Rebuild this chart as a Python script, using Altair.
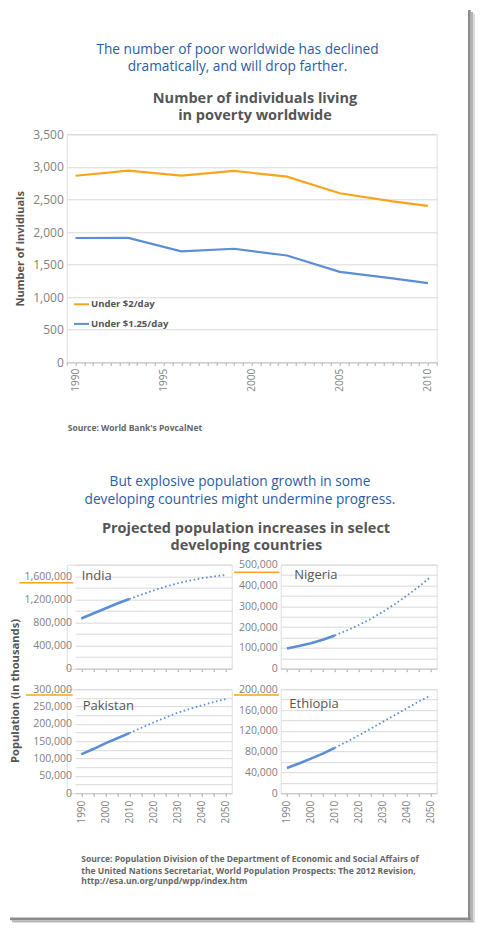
import altair as alt
import pandas as pd

FONT = "Open Sans"
BLUE_TXT = "#2B5CA6"
DARK = "#555555"
GRAY_LBL = "#7F7F7F"
GRID = "#D9D9D9"
ORANGE = "#F7A51C"
BLUE = "#5B8ED5"

# ---------------- text ----------------
heading1 = ["The number of poor worldwide has declined", "dramatically, and will drop farther."]
title1 = ["Number of individuals living", "in poverty worldwide"]
heading2 = ["But explosive population growth in some", "developing countries might undermine progress."]
title2 = ["Projected population increases in select", "developing countries"]
source1 = "Source: World Bank's PovcalNet"
source2 = [
    "Source: Population Division of the Department of Economic and Social Affairs of",
    "the United Nations Secretariat, World Population Prospects: The 2012 Revision,",
    "http://esa.un.org/unpd/wpp/index.htm",
]
y_title1 = "Number of invidiuals"
y_title2 = "Population (in thousands)"

# ---------------- data: poverty ----------------
years_pov = [1990, 1993, 1996, 1999, 2002, 2005, 2008, 2010]
under_2 = [2864, 2941, 2867, 2938, 2851, 2595, 2471, 2400]
under_125 = [1908, 1910, 1704, 1743, 1639, 1389, 1289, 1215]
series_names = ["Under $2/day", "Under $1.25/day"]
pov_ticks = [0, 500, 1000, 1500, 2000, 2500, 3000, 3500]

# ---------------- data: population (thousands) ----------------
proj_years = [1990, 1995, 2000, 2005, 2010, 2015, 2020, 2025, 2030, 2035, 2040, 2045, 2050]
india = [868891, 955804, 1042262, 1127144, 1205625, 1282390, 1353305, 1418747, 1476378, 1524000, 1565000, 1597000, 1620051]
nigeria = [97552, 109000, 122877, 139586, 159708, 183523, 210000, 239000, 273000, 310000, 350000, 393000, 440355]
pakistan = [111845, 127346, 143832, 158645, 173149, 188925, 204000, 218000, 231700, 243000, 253000, 263000, 271082]
ethiopia = [48333, 57000, 66444, 76000, 87095, 99000, 111000, 124000, 137000, 150000, 163000, 176000, 187573]
countries = ["India", "Nigeria", "Pakistan", "Ethiopia"]
proj_ticks = [1990, 1995, 2000, 2005, 2010, 2015, 2020, 2025, 2030, 2035, 2040, 2045, 2050]


def txt(s, x, y, size, color, weight="normal", align="center", angle=0):
    kw = dict(align=align, baseline="middle", fontSize=size, color=color, fontWeight=weight, font=FONT)
    if angle:
        kw["angle"] = angle
    return alt.Chart(pd.DataFrame({"t": [s]})).mark_text(**kw).encode(
        text="t:N", x=alt.value(x), y=alt.value(y))


def hrule(x1, x2, y, color, width):
    return alt.Chart(pd.DataFrame({"a": [0]})).mark_rule(color=color, strokeWidth=width).encode(
        x=alt.value(x1), x2=alt.value(x2), y=alt.value(y))


def box(x1, x2, y1, y2, color):
    return alt.Chart(pd.DataFrame({"a": [0]})).mark_rect(color=color).encode(
        x=alt.value(x1), x2=alt.value(x2), y=alt.value(y1), y2=alt.value(y2))


# ---------------- top chart ----------------
pov = pd.DataFrame({
    "year": years_pov * 2,
    "value": under_2 + under_125,
    "series": [series_names[0]] * len(years_pov) + [series_names[1]] * len(years_pov),
})
half_years = [1989.5 + 0.5 * i for i in range(43)]

lines_top = alt.Chart(pov).mark_line(strokeWidth=2.2).encode(
    x=alt.X("year:Q", scale=alt.Scale(domain=[1989.5, 2010.5], nice=False, zero=False),
            axis=alt.Axis(values=half_years,
                          labelExpr="datum.value % 5 === 0 ? '' + datum.value : ''",
                          labelAngle=-90, labelOverlap=False, grid=False, tickSize=3,
                          tickColor="#A6A6A6", domainColor="#C8C8C8", labelColor=GRAY_LBL,
                          labelFontSize=10, labelFont=FONT, labelPadding=3, title=None)),
    y=alt.Y("value:Q", scale=alt.Scale(domain=[0, 3500], nice=False),
            axis=alt.Axis(values=pov_ticks, labelExpr="format(datum.value, ',')", ticks=False,
                          domain=False, gridColor=GRID,
                          labelColor=GRAY_LBL, labelFontSize=12, labelFont=FONT, labelPadding=3.4,
                          title=y_title1, titleFontSize=11, titleFontWeight="bold", titleColor=DARK,
                          titleFont=FONT, titleX=-46, titleY=114, titleBaseline="middle")),
    color=alt.Color("series:N", scale=alt.Scale(domain=series_names, range=[ORANGE, BLUE]),
                    legend=alt.Legend(title=None, orient="none", legendX=6.3, legendY=161.5,
                                      symbolType="stroke", symbolSize=225, symbolStrokeWidth=2,
                                      labelFont=FONT, labelFontSize=9.5, labelFontWeight="bold",
                                      labelColor=DARK, labelOffset=1, rowPadding=6.6, padding=0,
                                      direction="vertical")),
)

top_layers = [
    lines_top,
    txt(heading1[0], 170.8, -84.3, 13.7, BLUE_TXT),
    txt(heading1[1], 170.8, -67.0, 13.7, BLUE_TXT),
    txt(title1[0], 188.3, -35.2, 14.5, DARK, "bold"),
    txt(title1[1], 188.3, -18.1, 14.5, DARK, "bold"),
    txt(source1, 1, 293.4, 8.5, "#666666", "bold", "left"),
    txt(heading2[0], 173.3, 347.8, 13.7, BLUE_TXT),
    txt(heading2[1], 173.3, 365.2, 13.7, BLUE_TXT),
    txt(title2[0], 179.3, 394.5, 14.5, DARK, "bold"),
    txt(title2[1], 179.6, 411.9, 14.5, DARK, "bold"),
    txt(y_title2, -50.7, 556.7, 11.2, DARK, "bold", "center", 270),
    txt(source2[0], 14.6, 725, 8.5, "#666666", "bold", "left"),
    txt(source2[1], 14.6, 736.4, 8.5, "#666666", "bold", "left"),
    txt(source2[2], 14.6, 746.7, 8.5, "#666666", "bold", "left"),
    # card shadow
    box(401.3, 404, -124.3, 786, "#8C8C8C"),
    box(404, 406.5, -122.3, 788, "#B4B4B4"),
    box(406.5, 408.3, -120.3, 789.7, "#DADADA"),
    box(-56.7, 404, 783.3, 786, "#8C8C8C"),
    box(-54.7, 406.5, 786, 788, "#B4B4B4"),
    box(-52.7, 408.3, 788, 789.7, "#DADADA"),
]
top = alt.layer(*top_layers).properties(width=370, height=228)


# ---------------- panels ----------------
def panel(name, vals, dmax, step, lstep, width, left, show_labels, name_xy, orange):
    df = pd.DataFrame({"year": proj_years, "value": vals})
    x = alt.X("year:Q",
              scale=alt.Scale(domain=[1987.4, 2052.6], range=[left, width], nice=False, zero=False),
              axis=alt.Axis(values=proj_ticks, labels=show_labels,
                            labelExpr="datum.value % 10 === 0 ? '' + datum.value : ''",
                            labelAngle=-90, labelOverlap=False, grid=False, tickSize=3,
                            tickColor="#A6A6A6", domainColor="#C8C8C8", labelColor=GRAY_LBL,
                            labelFontSize=10, labelFont=FONT, labelPadding=4, title=None))
    yvals = list(range(0, dmax + 1, step))
    y = alt.Y("value:Q", scale=alt.Scale(domain=[0, dmax], nice=False),
              axis=alt.Axis(values=yvals,
                            labelExpr=f"datum.value % {lstep} === 0 ? format(datum.value, ',') : ''",
                            ticks=False, domain=False, gridColor=GRID, labelColor=GRAY_LBL,
                            labelFontSize=10.5, labelFont=FONT, labelPadding=3.5, labelOverlap=False,
                            offset=-left, title=None))
    base = alt.Chart(df).encode(x=x, y=y)
    solid = base.mark_line(color=BLUE, strokeWidth=2.6).transform_filter("datum.year <= 2010")
    dotted = base.mark_line(color=BLUE, strokeWidth=1.8, strokeDash=[1.6, 2.6]).transform_filter(
        "datum.year >= 2010")
    lab = txt(name, name_xy[0], name_xy[1], 13, DARK, "normal", "left")
    orng = hrule(orange[0], orange[1], orange[2], ORANGE, 1.5)
    return alt.layer(solid, dotted, lab, orng).properties(width=width, height=104)


p_india = panel(countries[0], india, 1800000, 200000, 400000, 165, 8.3, False, (15, 11), (-47.4, 6.6, 18))
p_nigeria = panel(countries[1], nigeria, 500000, 50000, 100000, 156, 0, False, (13.6, 10.3), (-46.7, -1.4, 7.6))
p_pakistan = panel(countries[2], pakistan, 300000, 25000, 50000, 165, 8.3, True, (16, 16.8), (-40.7, 6, 5.8))
p_ethiopia = panel(countries[3], ethiopia, 200000, 20000, 40000, 156, 0, True, (8.6, 14.8), (-46.7, -1.7, 5.8))

grid = alt.concat(p_india, p_nigeria, p_pakistan, p_ethiopia, columns=2,
                  spacing={"row": 20.5, "column": 49}, bounds="flush")

chart = alt.vconcat(top, grid, spacing=202.4, bounds="flush").properties(
    padding={"left": 58.7, "top": 126.3, "right": 408.3, "bottom": 788.7},
    autosize=alt.AutoSizeParams(type="none"),
    background="white",
).configure_view(stroke=None).configure(font=FONT)

chart.save("out.html", embed_options={"renderer": "svg", "actions": False})
